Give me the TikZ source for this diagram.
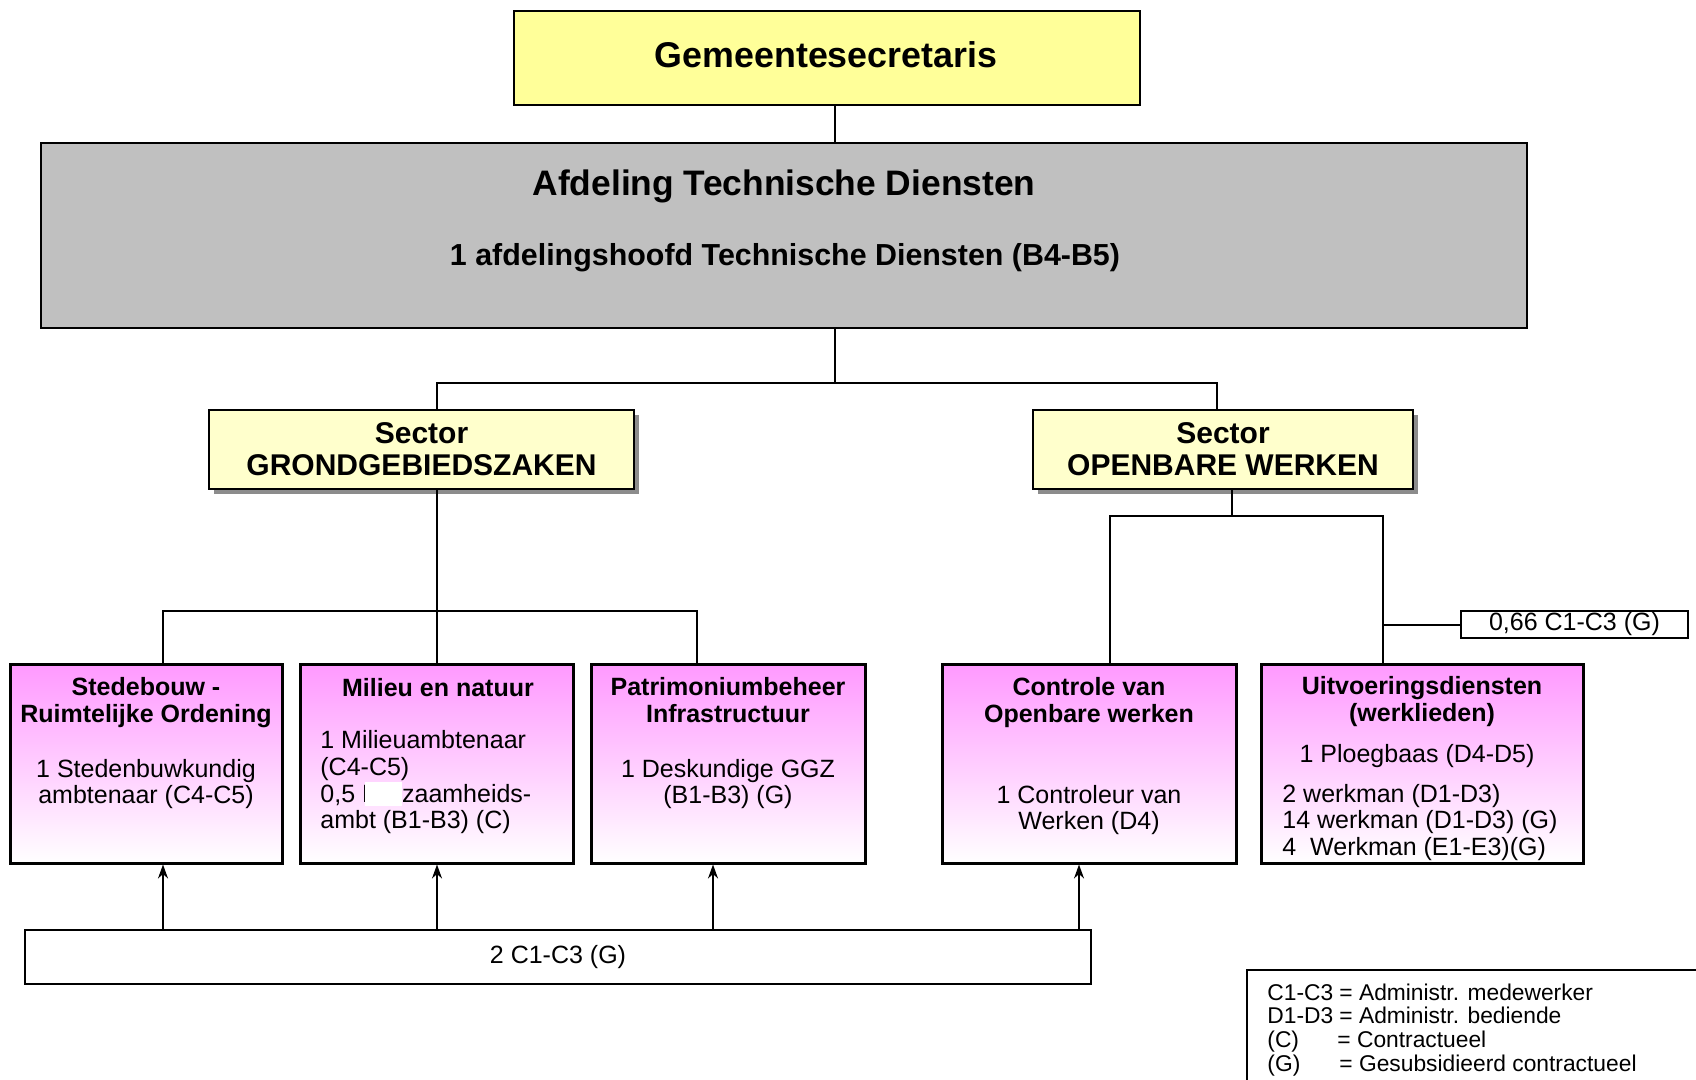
\documentclass[tikz,border=0pt]{standalone}
\usepackage{fontspec}
\setmainfont{Liberation Sans}
\usetikzlibrary{shadows,arrows.meta}
\definecolor{ytop}{HTML}{FFFF99}
\definecolor{ysec}{HTML}{FFFFCC}
\definecolor{gafd}{HTML}{C0C0C0}
\definecolor{pinktop}{HTML}{FF99FF}
\definecolor{shadowgray}{HTML}{8C8C8C}
\tikzset{
 conn/.style={line width=1pt},
 topbox/.style={draw, line width=1pt, inner sep=0pt},
 secbox/.style={draw, line width=1pt, fill=ysec, inner sep=0pt, align=center,
   font=\fontsize{15pt}{16pt}\selectfont\bfseries,
   drop shadow={shadow xshift=2.5pt, shadow yshift=-2.5pt, fill=shadowgray, opacity=1}},
 unitbox/.style={draw, line width=1.5pt, top color=pinktop, bottom color=white, inner sep=0pt, minimum height=99.5pt},
 head/.style={inner sep=0pt, align=center, font=\fontsize{12.5pt}{13.5pt}\selectfont\bfseries},
 body/.style={inner sep=0pt, align=center, font=\fontsize{12.5pt}{13pt}\selectfont},
 bodyl/.style={inner sep=0pt, align=left, font=\fontsize{12.5pt}{13.3pt}\selectfont, anchor=west},
 plain/.style={draw, line width=1pt, inner sep=0pt, font=\fontsize{12.5pt}{13pt}\selectfont},
 up/.style={line width=1pt, -{Stealth[length=7pt,width=5pt]}},
}
\begin{document}
\begin{tikzpicture}[x=0.5pt,y=-0.5pt]
\useasboundingbox (0,0) rectangle (1696,1080);
\fill[white] (0,0) rectangle (1696,1080);

% top boxes
\node[topbox, fill=ytop, minimum width=313pt, minimum height=47pt] (gs) at (827,58) {};
\node[inner sep=0pt, font=\fontsize{17.9pt}{22pt}\selectfont\bfseries] (gst) at (826,55) {Gemeentesecretaris};
\node[topbox, fill=gafd, minimum width=743pt, minimum height=92.5pt] (afd) at (784,235.5) {};
\node[inner sep=0pt, anchor=base, font=\fontsize{17.7pt}{20pt}\selectfont\bfseries] (afdt) at (784,196) {Afdeling Technische Diensten};
\node[inner sep=0pt, anchor=base, font=\fontsize{15.2pt}{18pt}\selectfont\bfseries] (afds) at (785,266) {1 afdelingshoofd Technische Diensten (B4-B5)};

% sectors
\node[secbox, minimum width=212.5pt, minimum height=39.5pt] (sg) at (421.5,449.5) {Sector\\GRONDGEBIEDSZAKEN};
\node[secbox, minimum width=190pt, minimum height=39.5pt] (so) at (1223,449.5) {Sector\\OPENBARE WERKEN};

% unit boxes
\node[unitbox, minimum width=136pt] (b1) at (146,763.5) {};
\node[unitbox, minimum width=136.5pt] (b2) at (436.5,763.5) {};
\node[unitbox, minimum width=137pt] (b3) at (728,763.5) {};
\node[unitbox, minimum width=147pt] (b4) at (1089,763.5) {};
\node[unitbox, minimum width=161pt] (b5) at (1422,763.5) {};

\node[head] (b1h) at (146,704) {\strut Stedebouw -\\Ruimtelijke Ordening\strut};
\node[body] (b1b) at (146,785) {\strut 1 Stedenbuwkundig\\ambtenaar (C4-C5)\strut};

\node[head] (b2h) at (438,691) {\strut Milieu en natuur\strut};
\node[bodyl] (b2b) at (320,783.5) {\strut 1 Milieuambtenaar\\(C4-C5)\\0,5 \makebox[20pt][l]{\rlap{D}\kern1.6pt\textcolor{white}{\rule[-2pt]{18.4pt}{12pt}}}zaamheids-\\ambt (B1-B3) (C)\strut};

\node[head] (b3h) at (728,704) {\strut Patrimoniumbeheer\\Infrastructuur\strut};
\node[body] (b3b) at (728,785) {\strut 1 Deskundige GGZ\\(B1-B3) (G)\strut};

\node[head] (b4h) at (1089,704) {\strut Controle van\\Openbare werken\strut};
\node[body] (b4b) at (1089,811) {\strut 1 Controleur van\\Werken (D4)\strut};

\node[head] (b5h) at (1422,703) {\strut Uitvoeringsdiensten\\(werklieden)\strut};
\node[body] (b5p) at (1417,757) {\strut 1 Ploegbaas (D4-D5)\strut};
\node[bodyl] (b5b) at (1282,823.5) {\strut 2 werkman (D1-D3)\\14 werkman (D1-D3) (G)\\4\ \ Werkman (E1-E3)(G)\strut};

% other boxes
\node[plain, minimum width=533pt, minimum height=27pt] (bot) at (558,957) {2 C1-C3 (G)};
\node[plain, minimum width=113.5pt, minimum height=13.5pt] (r066) at (1574.5,624.5) {0,66 C1-C3 (G)};

% legend
\draw[line width=1pt] (1247,1090) |- (1710,970);
\node[inner sep=0pt, anchor=west, align=left, font=\fontsize{11.4pt}{11.85pt}\selectfont] (leg) at (1267,1031)
 {\strut\makebox[36pt][l]{C1-C3}= Administr. medewerker\\
  \makebox[36pt][l]{D1-D3}= Administr. bediende\\
  \makebox[35pt][l]{(C)}= Contractueel\\
  \makebox[36pt][l]{(G)}= Gesubsidieerd contractueel\strut};

% connectors
\coordinate (j0) at (835,120);
\coordinate (xg) at (437,383);
\coordinate (xo) at (1217,383);
\draw[conn] (j0 |- gs.south) -- (j0 |- afd.north);
\draw[conn] (j0 |- afd.south) -- (j0 |- xg);
\draw[conn] (xg |- sg.north) -- (xg) -- (xo) -- (xo |- so.north);

\coordinate (jg) at (437,611);
\coordinate (c1) at (163,611);
\coordinate (c3) at (697,611);
\draw[conn] (jg |- sg.south) -- (jg) -- (jg |- b2.north);
\draw[conn] (c1 |- b1.north) -- (c1) -- (c3) -- (c3 |- b3.north);

\coordinate (jo) at (1232,516);
\coordinate (c4) at (1110,516);
\coordinate (c5) at (1383,516);
\draw[conn] (jo |- so.south) -- (jo);
\draw[conn] (c4 |- b4.north) -- (c4) -- (c5) -- (c5 |- b5.north);
\draw[conn] (c5 |- r066.west) -- (r066.west);

\coordinate (a1) at (163,900);
\coordinate (a2) at (437,900);
\coordinate (a3) at (713,900);
\coordinate (a4) at (1079,900);
\draw[up] (a1 |- bot.north) -- (a1 |- b1.south);
\draw[up] (a2 |- bot.north) -- (a2 |- b2.south);
\draw[up] (a3 |- bot.north) -- (a3 |- b3.south);
\draw[up] (a4 |- bot.north) -- (a4 |- b4.south);
\end{tikzpicture}
\end{document}
